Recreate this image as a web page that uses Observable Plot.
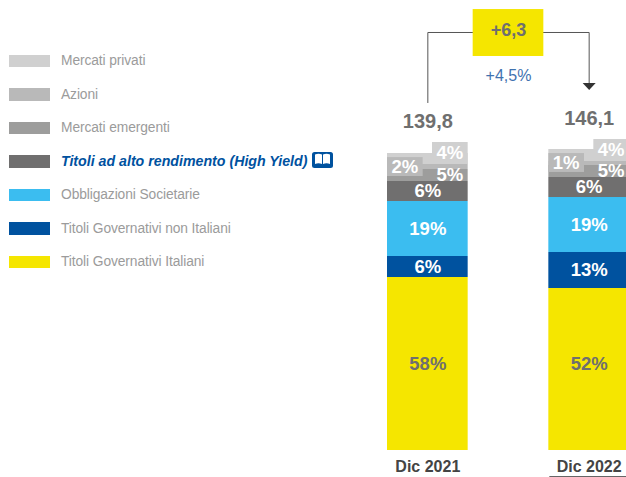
<!DOCTYPE html>
<html><head><meta charset="utf-8">
<script src="https://cdn.jsdelivr.net/npm/d3@7"></script>
<script src="https://cdn.jsdelivr.net/npm/@observablehq/plot@0.6"></script>
<style>
html,body{margin:0;padding:0;background:#fff;overflow:hidden}
body{width:626px;height:477px;position:relative;font-family:"Liberation Sans",Arial,sans-serif}
#chart{position:absolute;left:0;top:0}
#legend{position:absolute;left:9px;top:44px}
.row{display:flex;align-items:center;height:33.5px;font-size:13.8px;color:#9b9b9b;letter-spacing:-.1px}
.sw{width:41px;height:12.5px;margin-right:11px;flex:none}
.hl{color:#00529f;font-weight:bold;font-style:italic;font-size:14.2px;letter-spacing:0}
.row svg{margin-left:5px;margin-top:-3px}
</style></head><body>
<div id="chart"></div><div id="legend"></div>
<script>
const years = ["Dic 2021", "Dic 2022"];
const gap = "Δ";
const categories = ["Titoli Governativi Italiani","Titoli Governativi non Italiani","Obbligazioni Societarie","Titoli ad alto rendimento (High Yield)","Mercati emergenti","Azioni","Mercati privati"];
const colors = ["#f5e600","#00529f","#3bbdf0","#706f6f","#9d9d9c","#b9b9b9","#d0d0d0"];
const values2021 = [81.45,9.89,25.89,9.42,5.65,2.35,5.18];
const values2022 = [76.27,16.95,25.89,9.42,5.65,1.88,5.65];
const pct2021 = [58,6,19,6,5,2,4];
const pct2022 = [52,13,19,6,5,1,4];
const totals = [139.8,146.1];
const totalY = [154.9,156.3];
const delta = "+6,3";
const deltaPct = "+4,5%";
const italianLabelY = 40.7;
// raised label tabs: [bottom, top] for Azioni and Mercati privati
const tabAzioni = [[129.0,137.9],[130.9,139.8]];
const tabPrivati = [[134.65,145.0],[136.1,146.4]];
const connector = [[years[0],163.8],[years[0],196.8],[years[1],196.8],[years[1],172.8]];

const rows = [];
[values2021,values2022].forEach((vals,i)=>{
  let acc=0;
  vals.forEach((v,j)=>{
    const tab = j===5?tabAzioni[i]:j===6?tabPrivati[i]:null;
    rows.push({year:years[i],cat:categories[j],v,y1:acc,y2:acc+v,
      tab,pct:(i?pct2022:pct2021)[j]+"%",
      mid:j===0?italianLabelY:tab?(tab[0]+tab[1])/2:acc+v/2,j});
    acc+=v;
  });
});
const col = d3.scaleOrdinal(categories,colors);
const centre = rows.filter(d=>d.j<4);
const right = rows.filter(d=>d.j===4||d.j===6);
const left = rows.filter(d=>d.j===5);
const labelStyle = {text:"pct",textAnchor:"middle",fontWeight:"bold",fontSize:18.5,y:"mid",x:"year"};
const flatArrow = {draw(ctx,size){ctx.moveTo(-6.5,-3.5);ctx.lineTo(6.5,-3.5);ctx.lineTo(0,3.5);ctx.closePath();}};

const plot = Plot.plot({
  width:626,height:477,marginTop:0,marginBottom:27,marginLeft:0,marginRight:0,
  style:{fontFamily:"'Liberation Sans',Arial,sans-serif",background:"transparent"},
  x:{domain:[years[0],gap,years[1]],range:[387,629],padding:0,align:0.5,round:false,axis:null},
  y:{domain:[0,211.86],axis:null},
  marks:[
    Plot.rectY(rows,{x:"year",y1:"y1",y2:"y2",fill:d=>col(d.cat)}),
    Plot.barY(rows.filter(d=>d.j===5),{x:"year",y1:d=>d.tab[0],y2:d=>d.tab[1],fill:colors[5],insetRight:45}),
    Plot.barY(rows.filter(d=>d.j===6),{x:"year",y1:d=>d.tab[0],y2:d=>d.tab[1],fill:colors[6],insetLeft:45}),
    Plot.text(centre,{...labelStyle,fill:d=>d.j===0?"#6f6f6f":"#fff"}),
    Plot.text(right,{...labelStyle,fill:"#fff",dx:22}),
    Plot.text(left,{...labelStyle,fill:"#fff",dx:-23}),
    Plot.line(connector,{x:d=>d[0],y:d=>d[1],stroke:"#555",strokeWidth:1}),
    Plot.dot([years[1]],{x:d=>d,y:[171.4],symbol:flatArrow,fill:"#333"}),
    Plot.barY([gap],{x:d=>d,y1:[185.5],y2:[207.6],fill:colors[0],insetLeft:5,insetRight:5}),
    Plot.text([delta],{x:[gap],y:[197.8],text:d=>d,fontWeight:"bold",fontSize:18,fill:"#6f6f6f"}),
    Plot.text([deltaPct],{x:[gap],y:[176.6],text:d=>d,fontSize:16,fill:"#3f72af"}),
    Plot.text(totals,{x:years,y:totalY,text:d=>d3.format(".1f")(d).replace(".",","),fontWeight:"bold",fontSize:20,fill:"#6f6f6f"}),
    Plot.axisX({ticks:years,tickSize:0,tickPadding:10,anchor:"bottom",label:null,fontWeight:"bold",fontSize:16,fill:"#444"}),
    Plot.tickY([0],{x:[years[1]],y:d=>d,dy:26,stroke:"#666",strokeWidth:1,insetLeft:1,insetRight:3})
  ]
});
document.getElementById("chart").append(plot);

const legend = document.getElementById("legend");
const book = `<svg width="21" height="16" viewBox="0 0 21 16"><rect width="21" height="16" rx="2.5" fill="#00529f"/><path d="M3 2.500q3.500-1.500 7 0v9.500q-3.500-1.500-7 0zM11 2.500q3.500-1.500 7 0v9.500q-3.500-1.500-7 0z" fill="#fff"/></svg>`;
categories.slice().reverse().forEach((c,i)=>{
  const idx = categories.length-1-i;
  const r = document.createElement("div"); r.className="row";
  const hl = idx===3;
  r.innerHTML = `<span class="sw" style="background:${colors[idx]}"></span><span class="${hl?'hl':''}">${c}</span>${hl?book:''}`;
  legend.append(r);
});
</script></body></html>
